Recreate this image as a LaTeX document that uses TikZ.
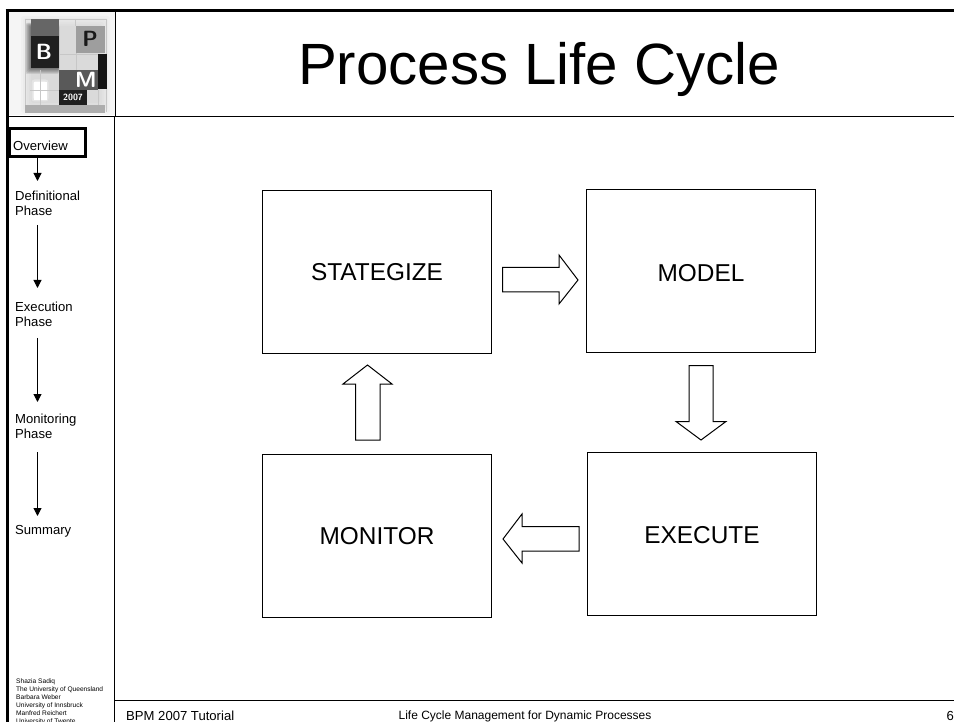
\documentclass[tikz,border=0pt]{standalone}
\usepackage{fontspec}
\setmainfont{Liberation Sans}
\usetikzlibrary{arrows.meta}
\tikzset{
  stagebox/.style={draw=black,line width=1pt,fill=white,minimum width=229pt,minimum height=163pt,inner sep=0pt,font=\fontsize{24.4pt}{28pt}\selectfont},
  blockarrow/.style={draw=black,line width=1pt,line join=miter,fill=white},
  sidetext/.style={anchor=west,align=left,inner sep=0pt,font=\fontsize{13.1pt}{15.6pt}\selectfont},
  sideflow/.style={draw=black,line width=1pt,-{Triangle[length=8pt,width=8pt]}},
  framethick/.style={line width=3pt,draw=black},
  framethin/.style={line width=1pt,draw=black},
  logotile/.style={inner sep=0pt,font=\bfseries\sffamily}
}
\begin{document}
\begin{tikzpicture}[x=1pt,y=-1pt]
\useasboundingbox (0,0) rectangle (954,722);
\fill[white] (0,0) rectangle (954,722);
% logo background
\fill[black!4] (9,12) rectangle (115,115);
\foreach \d in {10,8,...,0}{\fill[black!40,opacity=.05,rounded corners=3pt] (21+\d,16+\d) rectangle (110-\d,113-\d);}
% blurred shadow of the dark tiles
\foreach \d in {6,5,...,1}{\fill[black,opacity=.09,rounded corners=2pt] (31-\d,26-\d/2) rectangle (59,68+\d);}
\foreach \d in {6,4.5,...,0.5}{\fill[white,opacity=.3,rounded corners=3pt] (30+\d,78+\d) rectangle (50-\d,103-\d);}
\fill[white] (34,82) rectangle (47,100);
\draw[black!22,line width=.7pt] (25,19)--(106,19)--(106,112) (25,19)--(25,112) (54,36)--(54,19) (75,19)--(75,26) (40,70)--(40,105) (98,90)--(98,105) (30,90)--(59,90) (59,54)--(98,54) (76,53)--(76,70);
% logo tiles
\fill[black!60] (31,19) rectangle (59,36);
\fill[black!88] (31,36) rectangle (59,68);
\fill[black!65] (59,70) rectangle (98,90);
\fill[black!92] (98,54) rectangle (107,89);
\fill[black!38] (76,26) rectangle (105,53);
\fill[black!88] (59,90) rectangle (87,105);
\fill[black!32] (25,105) rectangle (105,113);
\node[logotile,white,font=\fontsize{22pt}{22pt}\bfseries\sffamily] (lb) at (44,52) {B};
\node[logotile,black!90,font=\fontsize{22pt}{22pt}\bfseries\sffamily] (lp) at (90,39) {P};
\node[logotile,white,font=\fontsize{22pt}{22pt}\bfseries\sffamily] (lm) at (86,80) {M};
\node[logotile,white,font=\fontsize{9pt}{9pt}\bfseries\sffamily] (ly) at (73,97.5) {2007};
% frame
\draw[framethick] (7,9) -- (7,722);
\draw[framethick] (5.5,10.5) -- (954,10.5);
\draw[framethin] (115.5,10) -- (115.5,116);
\draw[framethin] (8,116.5) -- (954,116.5);
\draw[framethin] (114.5,116) -- (114.5,722);
\draw[framethin] (115,700.5) -- (954,700.5);
% title
\node[inner sep=0pt,font=\fontsize{58.2pt}{62pt}\selectfont] (title) at (539,69) {Process Life Cycle};
% sidebar
\node[sidetext] (ov) at (13,146) {Overview};
\draw[line width=3pt,draw=black] (9,129) rectangle (85,157);
\coordinate (ovb) at (37.5,158);
\node[sidetext] (def) at (15,203.5) {Definitional\\Phase};
\node[sidetext] (exe) at (15,314.5) {Execution\\Phase};
\node[sidetext] (mon) at (15,426.5) {Monitoring\\Phase};
\node[sidetext] (sum) at (15,531) {Summary};
\coordinate (d1) at (37.5,225); \coordinate (d2) at (37.5,288);
\coordinate (e1) at (37.5,338); \coordinate (e2) at (37.5,402);
\coordinate (m1) at (37.5,452); \coordinate (m2) at (37.5,516);
\coordinate (ova) at (37.5,181);
\draw[sideflow] (ovb) -- (ova);
\draw[sideflow] (d1) -- (d2);
\draw[sideflow] (e1) -- (e2);
\draw[sideflow] (m1) -- (m2);
% authors
\node[anchor=north west,align=left,inner sep=0pt,font=\fontsize{6.6pt}{8.1pt}\selectfont] (auth) at (16,678.3) {Shazia Sadiq\\The University of Queensland\\Barbara Weber\\University of Innsbruck\\Manfred Reichert\\University of Twente};
% footer
\node[anchor=west,inner sep=0pt,font=\fontsize{13.1pt}{15pt}\selectfont] (f1) at (126,715.5) {BPM 2007 Tutorial};
\node[inner sep=0pt,font=\fontsize{12pt}{15pt}\selectfont] (f2) at (525,716) {Life Cycle Management for Dynamic Processes};
\node[anchor=east,inner sep=0pt,font=\fontsize{13.1pt}{15pt}\selectfont] (f3) at (954,715.5) {6};
% stages
\node[stagebox] (strat) at (377,272) {STATEGIZE};
\node[stagebox] (model) at (701,271) {\raisebox{-2pt}[\height][\depth]{MODEL}};
\node[stagebox] (exec) at (702,534) {\raisebox{-1pt}[\height][\depth]{EXECUTE}};
\node[stagebox] (moni) at (377,536) {MONITOR};
% block arrows
\draw[blockarrow] (502.5,267.5) -- (559,267.5) -- (559,255) -- (578,280) -- (559,304) -- (559,292) -- (502.5,292) -- cycle;
\draw[blockarrow] (689,365.5) -- (713,365.5) -- (713,421.5) -- (726,421.5) -- (701,440) -- (676,421.5) -- (689,421.5) -- cycle;
\draw[blockarrow] (355.5,440) -- (380,440) -- (380,384) -- (392,384) -- (367.5,365) -- (343,384) -- (355.5,384) -- cycle;
\draw[blockarrow] (579,526.5) -- (522,526.5) -- (522,514) -- (503,539) -- (522,563) -- (522,551) -- (579,551) -- cycle;
\end{tikzpicture}
\end{document}
